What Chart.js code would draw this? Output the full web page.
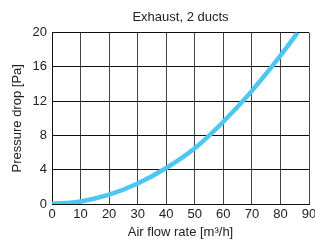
<!DOCTYPE html>
<html>
<head>
<meta charset="utf-8">
<script src="https://cdn.jsdelivr.net/npm/chart.js@4"></script>
<style>
  html, body { margin: 0; padding: 0; background: #fff; }
  #wrap { width: 315px; height: 242px; }
</style>
</head>
<body>
<div id="wrap"><canvas id="chart" width="315" height="242"></canvas></div>
<script>
const flowRate = [0, 10, 20, 30, 40, 50, 60, 70, 80, 86];
const pressureDrop = [0, 0.3, 1.1, 2.4, 4.2, 6.5, 9.6, 13.2, 17.3, 20];

const chartTitle = "Exhaust, 2 ducts";
const xTitle = "Air flow rate [m\u00B3/h]";
const yTitle = "Pressure drop [Pa]";

const points = flowRate.map((x, i) => ({ x: x, y: pressureDrop[i] }));

const font = { family: "'Liberation Sans', Arial, sans-serif", size: 13, weight: 'normal' };

new Chart(document.getElementById("chart"), {
  type: 'scatter',
  data: {
    datasets: [{
      data: points,
      showLine: true,
      borderColor: '#4CC6F2',
      borderWidth: 4.5,
      pointRadius: 0,
      tension: 0.4,
      cubicInterpolationMode: 'monotone',
      fill: false
    }]
  },
  options: {
    responsive: false,
    animation: false,
    layout: { padding: { left: 0, right: 0, top: 0, bottom: 0 } },
    plugins: {
      legend: { display: false },
      tooltip: { enabled: false },
      title: {
        display: true,
        fullSize: false,
        text: chartTitle,
        color: '#222',
        font: font,
        padding: { top: 10, bottom: 7 }
      }
    },
    scales: {
      x: {
        type: 'linear',
        min: 0,
        max: 90,
        ticks: { stepSize: 10, color: '#222', font: font, padding: 3, maxRotation: 0 },
        grid: { color: '#444', drawTicks: false },
        border: { color: '#111', width: 1 },
        title: { display: true, text: xTitle, color: '#222', font: font, padding: { top: 0, bottom: 2 } },
        afterFit: scale => {
          scale.height = 38;
          scale.paddingRight = 6;
          scale.paddingLeft = 0;
        }
      },
      y: {
        min: 0,
        max: 20,
        ticks: {
          stepSize: 2,
          color: '#222',
          font: font,
          padding: 5,
          callback: v => (v % 4 === 0 ? v : '')
        },
        grid: {
          drawTicks: false,
          color: ctx => (ctx.tick && ctx.tick.value % 4 === 0 ? '#111' : '#666')
        },
        border: { color: '#111', width: 1 },
        title: { display: true, text: yTitle, color: '#222', font: font, padding: { top: 10, bottom: 4 } },
        afterFit: scale => { scale.width = 52; }
      }
    }
  }
});
</script>
</body>
</html>
